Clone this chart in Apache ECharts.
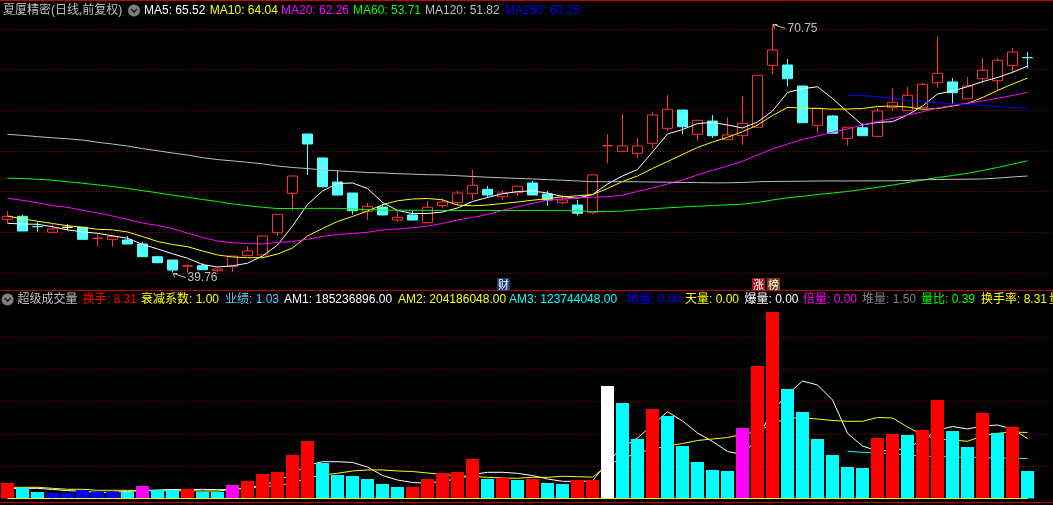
<!DOCTYPE html>
<html><head><meta charset="utf-8">
<script src="https://cdn.jsdelivr.net/npm/echarts@6.0.0/dist/echarts.min.js"></script>
<style>html,body{margin:0;padding:0;background:#000;overflow:hidden}#c{width:1053px;height:505px}</style>
</head><body><div id="c"></div>
<script>
// ---------- data ----------
const days = ['1','2','3','4','5','6','7','8','9','10','11','12','13','14','15','16','17','18','19','20','21','22','23','24','25','26','27','28','29','30','31','32','33','34','35','36','37','38','39','40','41','42','43','44','45','46','47','48','49','50','51','52','53','54','55','56','57','58','59','60','61','62','63','64','65','66','67','68','69'];
const opens = [46.42,46.79,45.52,44.80,45.42,45.42,44.04,43.92,43.84,43.34,
  41.75,41.34,40.58,40.63,40.01,40.51,41.88,41.97,44.75,49.66,
  57.06,54.07,51.07,49.70,47.37,47.95,46.33,46.96,46.00,48.12,
  48.49,49.61,50.16,49.24,49.74,50.95,49.57,48.49,48.20,47.24,
  55.58,54.90,54.65,55.90,57.77,60.05,57.02,58.68,56.35,56.85,
  57.90,65.63,65.67,63.05,58.15,59.31,56.52,57.85,56.77,60.34,
  59.97,60.34,63.46,63.55,61.46,63.96,63.71,65.58,66.60];
const closes = [46.79,44.96,45.49,45.21,45.42,43.92,44.06,44.25,43.34,41.75,
  41.00,40.09,40.60,40.13,40.22,41.84,42.46,44.34,47.04,51.82,
  55.81,50.49,49.45,47.49,48.04,46.96,46.67,46.33,47.92,48.58,
  49.70,50.66,49.45,49.70,50.54,49.45,48.83,48.83,47.17,51.95,
  55.61,55.56,55.56,59.43,60.14,57.97,58.77,56.85,56.94,58.40,
  64.38,67.54,63.96,58.47,60.27,57.15,57.90,56.85,59.93,61.02,
  61.89,63.26,64.63,62.21,63.05,65.01,66.26,67.29,66.57];
const lows = [45.96,44.96,44.87,44.80,45.09,43.92,43.00,43.00,43.34,41.75,
  41.00,39.76,39.78,40.13,39.80,39.88,41.88,41.97,44.37,47.49,
  51.95,50.37,49.40,47.04,46.33,46.90,46.12,46.24,46.00,47.79,
  48.20,48.83,49.16,48.83,49.33,49.45,48.08,48.33,46.87,47.05,
  53.41,54.88,54.03,55.28,57.43,57.02,56.19,56.60,56.35,55.69,
  57.90,64.51,62.96,58.47,57.22,57.15,55.60,56.85,56.60,59.93,
  59.97,60.34,62.84,60.80,61.46,63.42,62.42,64.63,65.26];
const highs = [47.46,46.96,46.04,45.80,45.80,45.42,44.55,44.25,44.34,43.63,
  41.88,41.34,40.80,40.93,40.22,41.84,43.09,44.34,47.04,51.82,
  57.06,54.07,52.48,49.70,48.45,48.33,47.67,47.49,48.70,49.04,
  49.95,52.57,50.57,50.07,50.54,51.20,49.95,49.45,48.83,51.95,
  57.06,59.56,56.56,59.77,61.93,60.05,58.77,59.43,59.14,61.80,
  64.38,70.75,66.42,63.05,60.27,59.43,57.90,58.40,60.27,62.76,
  62.92,63.51,69.29,64.05,64.17,66.54,66.54,67.79,67.33];
const ma5 = [45.92,45.83,45.80,45.49,45.09,44.86,44.67,44.36,44.05,43.30,
  42.72,42.12,41.56,40.78,40.47,40.62,40.94,41.84,43.21,45.58,
  48.27,49.95,50.89,50.95,50.26,48.52,47.52,47.14,47.14,47.33,
  47.83,48.64,49.14,49.60,49.89,49.95,49.70,49.26,49.05,49.51,
  50.82,51.82,52.63,54.82,57.06,57.62,58.37,58.50,58.18,57.81,
  58.56,59.93,62.24,62.71,62.95,61.49,59.81,58.18,58.52,58.60,
  59.43,60.55,62.05,62.43,62.96,63.59,64.11,64.76,65.52];
const ma10 = [46.83,46.48,46.18,45.90,45.62,45.43,45.17,45.11,44.84,44.27,
  43.65,43.28,43.00,42.47,41.97,41.72,41.63,41.63,42.09,42.84,
  44.34,45.27,46.15,46.77,47.46,48.23,48.73,48.95,49.02,48.85,
  48.20,48.10,48.20,48.39,48.58,48.80,48.99,49.23,49.35,49.51,
  50.26,51.14,51.82,52.76,53.63,54.50,55.38,56.06,56.65,57.35,
  58.18,59.37,60.37,60.31,60.24,60.16,60.18,60.24,60.49,60.55,
  60.43,60.14,60.24,60.55,60.87,61.61,62.49,63.30,64.04];
const ma20 = [49.04,48.79,48.48,48.12,47.92,47.54,47.21,46.83,46.40,45.96,
  45.65,45.27,44.69,44.15,43.71,43.51,43.39,43.34,43.53,43.65,
  43.93,44.28,44.52,44.65,44.80,45.09,45.21,45.36,45.56,45.90,
  46.33,46.65,47.02,47.52,47.98,48.42,48.79,48.95,49.10,49.17,
  49.23,49.43,49.89,50.33,50.82,51.29,51.95,52.53,53.07,53.66,
  54.44,55.19,55.81,56.38,56.81,57.29,57.69,58.18,58.62,59.02,
  59.43,59.83,60.31,60.62,60.89,61.18,61.52,61.86,62.26];
const ma60 = [51.54,51.50,51.41,51.29,51.10,50.92,50.72,50.51,50.26,49.99,
  49.73,49.43,49.17,48.89,48.64,48.33,48.12,47.92,47.76,47.77,
  47.78,47.79,47.78,47.71,47.64,47.58,47.56,47.55,47.54,47.53,
  47.53,47.52,47.52,47.52,47.51,47.51,47.50,47.50,47.48,47.39,
  47.38,47.45,47.60,47.73,47.85,47.95,48.05,48.14,48.23,48.30,
  48.52,48.83,49.10,49.29,49.51,49.70,49.89,50.14,50.41,50.68,
  51.01,51.32,51.63,51.88,52.16,52.51,52.88,53.30,53.71];
const ma120 = [57.02,56.89,56.73,56.59,56.46,56.31,56.03,55.81,55.56,55.24,
  54.97,54.69,54.44,54.11,53.87,53.71,53.53,53.34,53.07,52.88,
  52.75,52.58,52.47,52.36,52.26,52.20,52.11,52.05,51.98,51.95,
  51.86,51.76,51.67,51.60,51.52,51.45,51.37,51.29,51.20,51.11,
  51.11,51.11,51.10,51.07,51.05,51.02,51.00,50.97,50.97,51.01,
  51.10,51.14,51.16,51.17,51.20,51.20,51.20,51.21,51.21,51.22,
  51.26,51.35,51.39,51.41,51.42,51.45,51.56,51.70,51.82];
const ma250 = [null,null,null,null,null,null,null,null,
  null,null,null,null,null,null,null,null,
  null,null,null,null,null,null,null,null,
  null,null,null,null,null,null,null,null,
  null,null,null,null,null,null,null,null,
  null,null,null,null,null,null,null,null,
  null,null,null,null,null,null,null,null,
  61.89,61.86,61.71,61.55,61.24,61.08,60.97,60.84,60.74,60.62,60.49,60.37,60.25];
// volume in millions of shares
const volumes = [47.9,33.5,20.1,17.0,17.0,26.3,21.0,21.0,20.1,38.7,
  26.3,26.0,29.4,21.0,20.8,41.8,54.1,75.8,82.0,134.5,
  177.9,109.8,72.7,69.6,60.3,44.8,35.6,35.9,60.3,78.9,
  82.0,122.2,60.3,63.4,57.2,60.3,47.9,44.8,57.2,57.6,
  348.0,295.4,184.0,276.8,255.2,162.4,112.9,88.2,85.1,218.1,
  409.8,576.9,338.7,267.6,184.0,134.5,97.4,94.3,187.1,199.5,
  196.4,211.9,304.7,208.8,159.3,264.5,202.6,221.2,85.1];
// r=up, c=down, b=地量, m=倍量, w=爆量
const volKinds = ['r','c','c','b','b','b','b','b','c','m',
  'c','c','r','c','c','m','r','r','r','r',
  'r','c','c','c','c','c','c','r','r','r',
  'r','r','c','r','c','r','c','c','r','r',
  'w','c','c','r','c','c','c','c','c','m',
  'r','r','c','c','c','c','c','c','r','r',
  'c','r','r','c','c','r','c','r','c'];
const am1 = [30.9,31.5,31.5,27.8,24.7,21.7,19.2,19.2,21.7,24.7,
  26.3,27.8,27.2,28.5,27.2,28.5,32.5,41.8,54.0,76.0,
  103.0,113.8,113.8,111.4,97.4,71.1,57.2,49.5,47.0,54.1,
  60.0,74.0,81.0,81.0,77.9,71.1,60.3,53.2,53.2,54.0,
  112.9,158.0,187.1,227.3,268.5,239.7,202.6,176.3,145.4,136.0,
  185.0,272.0,322.0,363.4,351.1,304.7,201.7,162.4,146.9,148.5,
  156.2,180.9,211.9,222.7,215.0,224.3,227.3,215.0,185.236896];
const am2 = [34.6,34.6,34.6,31.5,28.5,28.5,25.4,25.4,25.4,24.1,
  24.1,24.1,24.1,23.2,23.2,27.8,32.5,36.5,40.2,47.9,
  64.0,72.7,77.9,85.1,88.2,88.2,85.1,83.5,78.9,74.2,
  70.5,68.0,65.6,63.4,62.5,65.6,65.6,68.7,67.4,66.0,
  103.0,124.0,140.7,153.1,162.4,170.1,179.4,184.0,188.7,198.0,
  207.2,230.4,249.0,249.0,245.9,241.3,238.8,238.8,250.5,249.0,
  221.2,196.4,184.7,180.9,176.9,193.3,201.7,205.7,204.186048];
const am3 = [null,null,null,null,null,null,null,null,
  null,null,null,null,null,null,null,null,
  null,null,null,null,null,null,null,null,
  null,null,null,null,null,null,null,null,
  null,null,null,null,null,null,null,null,
  null,null,null,null,null,null,null,null,
  null,null,null,null,null,null,null,null,
  146.0,142.9,140.7,137.6,134.5,131.5,129.9,128.4,127.4,126.8,125.3,124.3,123.744048];
const tianLiang = [0,0,0,0,0,0,0,0,0,0, 0,0,0,0,0,0,0,0,0,0, 0,0,0,0,0,0,0,0,0,0,
  0,0,0,0,0,0,0,0,0,0, 0,0,0,0,0,0,0,0,0,0, 0,0,0,0,0,0,0,0,0,0, 0,0,0,0,0,0,0,0,0];
const stockTitle = '夏厦精密(日线,前复权)';
const volTitle = '超级成交量';
const volReadouts = [['换手','8.31'],['衰减系数','1.00'],['业绩','1.03'],
  ['AM1',null],['AM2',null],['AM3',null],
  ['地量','0.00'],['天量','0.00'],['爆量','0.00'],['倍量','0.00'],['堆量','1.50'],['量比','0.39'],['换手率','8.31']];
const eventMarks = [[33,'财'],[50,'涨'],[51,'榜']];
const priceMin = 39.72, priceMax = 70.16;

// ---------- styles ----------
const FONT = '12px "Liberation Sans", Arial, "Noto Sans CJK SC", sans-serif';
const dotLine = {color:'#990000', type:[1,2], width:1};
const maColors = ['#ffffff','#ffff00','#ff00ff','#00ff00','#c0c0c0','#0000ff'];
const maNames = ['MA5','MA10','MA20','MA60','MA120','MA250'];
const maData = [ma5, ma10, ma20, ma60, ma120, ma250];
const maX = [144, 209.8, 281, 353, 425, 505];
const volKindColor = {r:'#ff0000', c:'#00ffff', b:'#0000ff', m:'#ff00ff', w:'#ffffff'};
const readoutColors = ['#ff0000','#ffff00','#5ac8fa','#ffffff','#ffff00','#00ffff','#0000ff','#ffff00','#ffffff','#ff00ff','#808080','#00ff00','#ffff00'];
const readoutX = [82.8,141,225,284,398,509,627,685,744.5,803,862,921,981];
const markColors = ['#1c3a6e','#9a1a1a','#7a3d12'];

const chart = echarts.init(document.getElementById('c'), null, {renderer:'canvas', width:1053, height:505});

const candleData = opens.map((o,i)=>[o, closes[i], lows[i], highs[i]]);
const volData = volumes.map((v,i)=>{
  const col = volKindColor[volKinds[i]];
  const st = {color: col};
  if (volKinds[i]==='b') { st.borderColor = col; st.borderWidth = 2; }
  return {value: v, itemStyle: st};
});

const hiddenAxis = {axisLine:{show:false}, axisTick:{show:false}, axisLabel:{show:false}};
const series = [
  {type:'candlestick', xAxisIndex:0, yAxisIndex:0, data:candleData, barWidth:11, clip:false, silent:true, z:2,
   itemStyle:{color:'#000000', color0:'#54ffff', borderColor:'#ff3232', borderColor0:'#54ffff', borderColorDoji:'#ffffff', borderWidth:1}}
];
maData.forEach((d,i)=>series.push({type:'line', name:maNames[i], xAxisIndex:0, yAxisIndex:0, data:d, symbol:'none',
  clip:false, silent:true, z:3, lineStyle:{color:maColors[i], width:1}}));
[[am1,'#ffffff'],[am2,'#ffff00'],[am3,'#00ffff']].forEach(([d,c])=>series.push({type:'line', xAxisIndex:1, yAxisIndex:1,
  data:d, symbol:'none', silent:true, z:2, lineStyle:{color:c, width:1}}));
series.push({type:'bar', xAxisIndex:1, yAxisIndex:1, data:volData, barWidth:13, silent:true, z:4});
series.push({type:'line', xAxisIndex:1, yAxisIndex:1, data:tianLiang, symbol:'none', silent:true, z:5, lineStyle:{color:'#ffff00', width:1}});

chart.setOption({
  backgroundColor:'#000000',
  animation:false,
  grid:[
    {left:0, top:29, width:1035, height:244},
    {left:0, top:304.5, width:1035, height:194},
    {left:0, top:29, width:1053, height:244},
    {left:0, top:336.83, width:1053, height:161.67}
  ],
  xAxis:[
    {type:'category', gridIndex:0, data:days, show:false},
    {type:'category', gridIndex:1, data:days, show:false},
    {type:'value', gridIndex:2, min:0, max:1, show:false},
    {type:'value', gridIndex:3, min:0, max:1, show:false}
  ],
  yAxis:[
    {type:'value', gridIndex:0, min:priceMin, max:priceMax, show:false},
    {type:'value', gridIndex:1, min:0, max:600, show:false},
    Object.assign({type:'value', gridIndex:2, min:0, max:6, interval:1, splitLine:{show:true, lineStyle:dotLine}}, hiddenAxis),
    Object.assign({type:'value', gridIndex:3, min:0, max:5, interval:1, splitLine:{show:true, showMinLine:false, lineStyle:dotLine}}, hiddenAxis)
  ],
  series: series
});

// ---------- overlays ----------
const g = [];
function txt(x, y, s, color, font, align) {
  g.push({type:'text', x:x, y:y, z:100, silent:true,
    style:{text:s, fill:color, font:font||FONT, verticalAlign:'middle', align:align||'left'}});
}
function ln(x1,y1,x2,y2,color) {
  g.push({type:'line', z:100, silent:true, shape:{x1:x1,y1:y1,x2:x2,y2:y2}, style:{stroke:color, lineWidth:1}});
}
function icon(cx, cy) {
  g.push({type:'circle', z:100, silent:true, shape:{cx:cx, cy:cy, r:6}, style:{fill:'#808080'}});
  g.push({type:'polyline', z:101, silent:true, shape:{points:[[cx-3,cy-1.5],[cx,cy+1.5],[cx+3,cy-1.5]]}, style:{stroke:'#1a1a1a', lineWidth:1.6, fill:null}});
}
// pane borders
ln(0,0.5,1053,0.5,'#c00000');
ln(0,290.5,1053,290.5,'#c00000');
ln(0,502.5,1053,502.5,'#c00000');
// row 1
txt(3, 10.5, stockTitle, '#c0c0c0');
icon(134, 10.5);
maNames.forEach((n,i)=>{
  const d = maData[i];
  txt(maX[i], 10.5, n + ': ' + d[d.length-1].toFixed(2), maColors[i]);
});
// row 2
icon(7.6, 299.5);
txt(17.6, 299.5, volTitle, '#c0c0c0');
const amLast = {AM1: am1[am1.length-1], AM2: am2[am2.length-1], AM3: am3[am3.length-1]};
volReadouts.forEach(([n,v],i)=>{
  const val = v !== null ? v : (amLast[n]*1e6).toFixed(2);
  txt(readoutX[i], 299.5, n + ': ' + val, readoutColors[i]);
});
txt(1049, 299.5, '量', '#ffff00');

// high / low annotations
const hiVal = Math.max(...highs), hiIdx = highs.indexOf(hiVal);
const loVal = Math.min(...lows), loIdx = lows.indexOf(loVal);
[[hiIdx, hiVal],[loIdx, loVal]].forEach(([idx,val])=>{
  const p = chart.convertToPixel({gridIndex:0}, [idx, val]);
  const x = Math.round(p[0]) + 0.5, y = Math.round(p[1]) + 0.5;
  ln(x, y, x+12, y+4, '#c0c0c0');
  ln(x, y, x+4, y, '#c0c0c0');
  ln(x, y, x+1, y+4, '#c0c0c0');
  txt(x+14, y+4.5, val.toFixed(2), '#c0c0c0');
});
// event markers
eventMarks.forEach(([idx, s], i)=>{
  const p = chart.convertToPixel({gridIndex:0}, [idx, priceMin]);
  const cx = Math.round(p[0]);
  g.push({type:'rect', z:100, silent:true, shape:{x:cx-6, y:278, width:13, height:12.5}, style:{fill:markColors[i]}});
  txt(cx+0.5, 284.5, s, '#ffffff', '11px "Noto Sans CJK SC", sans-serif', 'center');
});
chart.setOption({graphic: g});
</script>
</body></html>
